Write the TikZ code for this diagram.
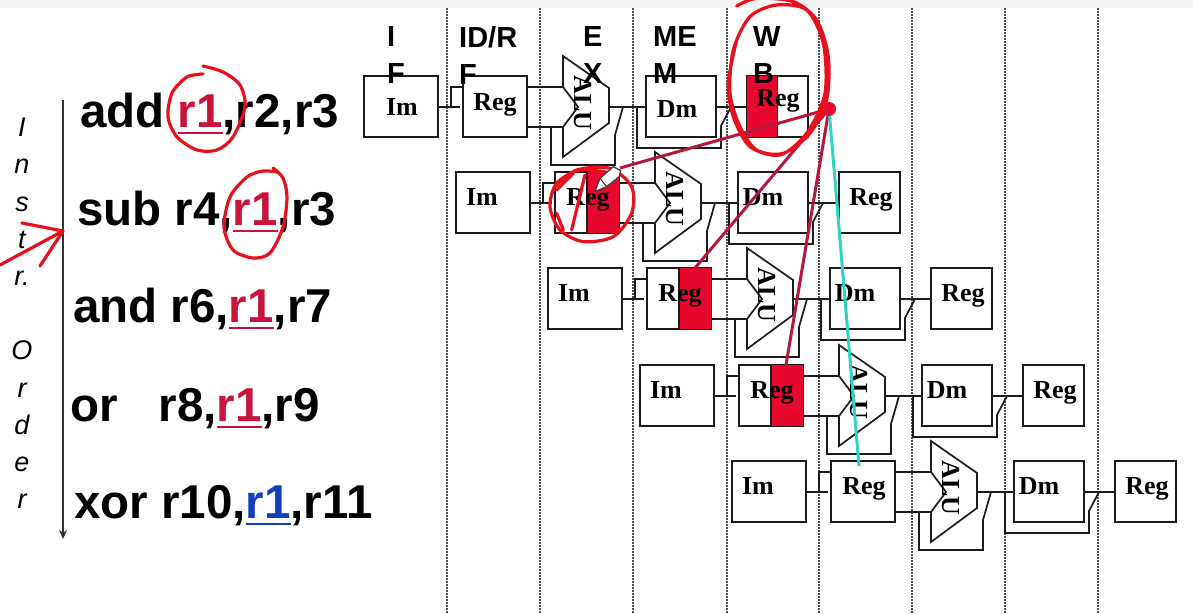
\documentclass[tikz,border=0pt]{standalone}
\usepackage{fontspec}
\setmainfont{Liberation Serif}
\setsansfont{Liberation Sans}
\usetikzlibrary{arrows.meta}
\definecolor{scrib}{HTML}{E9101E}
\definecolor{redfill}{HTML}{E8082E}
\definecolor{rone}{HTML}{C8143A}
\definecolor{bone}{HTML}{1040C0}
\definecolor{wine}{HTML}{B5173F}
\definecolor{teal2}{HTML}{2FD5C0}
\definecolor{ink}{HTML}{1C1C1C}
\newcommand{\regone}[2]{\textcolor{#1}{\setbox0\hbox{#2}\rlap{\rule[-6.5pt]{\wd0}{1.7pt}}\box0}}
\tikzset{
  pipebox/.style={draw=ink,line width=1.7pt,fill=white,inner sep=0pt,minimum height=61pt},
  wire/.style={draw=ink,line width=1.7pt,line join=miter},
  alushape/.style={draw=ink,line width=1.7pt,fill=white,line join=miter},
  stagetxt/.style={font=\fontsize{26}{26}\selectfont\bfseries,text=black,inner sep=0pt,anchor=base},
  header/.style={font=\fontsize{29}{37}\selectfont\sffamily\bfseries,inner sep=0pt,align=left,anchor=north west},
  instr/.style={font=\fontsize{47.5}{47.5}\selectfont\sffamily\bfseries,inner sep=0pt,anchor=base west},
  stagesep/.style={draw=black!70,line width=1.5pt,dash pattern=on 1.5pt off 1.5pt},
  scribble/.style={draw=scrib,line width=3.2pt,line cap=round,line join=round},
  linkline/.style={draw=wine,line width=3pt},
  redreg/.style={draw=ink,line width=1.2pt,fill=redfill},
}
\begin{document}
\begin{tikzpicture}[x=1pt,y=-1pt]
\useasboundingbox (0,0) rectangle (1193,613);
\clip (0,0) rectangle (1193,613);
\fill[white] (0,0) rectangle (1193,613);
\fill[black!5] (0,0) rectangle (1193,8);
% stage separators
\foreach \sx in {447,540,633,727,819,912,1005,1098}
  \draw[stagesep] (\sx,8) -- (\sx,613);
% pipeline rows
\foreach \r/\dx/\dy in {1/0/0,2/92/96,3/184/192,4/276/289,5/368/385}{
\begin{scope}[shift={(\dx,\dy)}]
  \node[pipebox,minimum width=74pt] (im\r) at (401,106.5) {};
  \node[pipebox,minimum width=64pt] (rg\r) at (495,106.5) {};
  \node[pipebox,minimum width=70pt] (dm\r) at (681,106.5) {};
  \node[pipebox,minimum width=61pt] (wb\r) at (777.5,106.5) {};
  \coordinate (au\r) at (563,87);
  \coordinate (ad\r) at (563,127);
  \coordinate (ao\r) at (609,107);
  \coordinate (st\r) at (460,107);
  \coordinate (br\r) at (451,107);
  \coordinate (fw\r) at (623,107);
  \coordinate (mw\r) at (637,107);
  \coordinate (mt\r) at (731,107);
  % IF to ID
  \draw[wire] (im\r.east |- st\r) -- (st\r);
  \draw[wire] (br\r) -- (br\r |- au\r) -- (rg\r.west |- au\r);
  % Reg to ALU
  \draw[wire] (rg\r.east |- au\r) -- (au\r);
  \draw[wire] (rg\r.east |- ad\r) -- (ad\r);
  % forward round the ALU
  \draw[wire] (551,127) -- (551,165) -- (615,165) -- (615,135) -- (fw\r);
  % ALU out to Dm, Dm out to Reg
  \draw[wire] (ao\r) -- (dm\r.west |- ao\r);
  \draw[wire] (dm\r.east |- ao\r) -- (wb\r.west |- ao\r);
  \draw[wire] (mw\r) -- (637,148) -- (721,148) -- (721,126) -- (mt\r);
  % ALU
  \draw[alushape] (563,56) -- (609,88) -- (ao\r) -- (609,123) -- (563,157) -- (ad\r) -- (578,107) -- (au\r) -- cycle;
  \node[stagetxt,rotate=-90,anchor=center] (alu\r) at (583,103) {ALU};
\end{scope}
}
% red halves of the register boxes
\draw[redreg] (wb1.north west) rectangle (wb1.south);
\draw[redreg] (rg2.north) rectangle (rg2.south east);
\draw[redreg] (rg3.north) rectangle (rg3.south east);
\draw[redreg] (rg4.north) rectangle (rg4.south east);
% box texts
\node[stagetxt] (tim1) at (402,115) {Im};
\node[stagetxt] (trg1) at (495,110) {Reg};
\node[stagetxt] (tdm1) at (677,117) {Dm};
\node[stagetxt] (twb1) at (778,106) {Reg};
\foreach \r/\dx/\dy in {2/92/96,3/184/192,4/276/289,5/368/385}{
\begin{scope}[shift={(\dx,\dy)}]
  \node[stagetxt] (tim\r) at (390,109) {Im};
  \node[stagetxt] (trg\r) at (496,109) {Reg};
  \node[stagetxt] (tdm\r) at (671,109) {Dm};
  \node[stagetxt] (twb\r) at (779,109) {Reg};
\end{scope}
}
% stage headers
\node[header] (hif) at (387,26) {I\\F};
\node[header] (hid) at (459,26) {ID/R\\F};
\node[header] (hex) at (583,26) {E\\X};
\node[header] (hme) at (653,26) {ME\\M};
\node[header] (hwb) at (753,26) {W\\B};
% instruction list
\node[instr] (i1) at (80,127) {add \regone{rone}{r1},r2,r3};
\node[instr] (i2) at (77,225) {sub r4,\regone{rone}{r1},r3};
\node[instr] (i3) at (73,322) {and r6,\regone{rone}{r1},r7};
\node[instr] (i4) at (70,421) {or\hspace{41pt}r8,\regone{rone}{r1},r9};
\node[instr] (i5) at (74,518) {xor r10,\regone{bone}{r1},r11};
% order axis
\coordinate (axt) at (63,100);
\coordinate (axb) at (63,539);
\draw[draw=black!80,line width=1.5pt,-{Stealth[length=9pt,width=8pt]}] (axt) -- (axb);
\node[font=\fontsize{27}{37.2}\selectfont\sffamily\itshape,inner sep=0pt,align=center,anchor=north] (ord) at (22,118) {I\\n\\s\\t\\r.\\ \\O\\r\\d\\e\\r};
% links from the write-back register
\coordinate (dot) at (829,109);
\coordinate (pen) at (620,168);
\coordinate (l3) at (695,268);
\coordinate (l4) at (786,365);
\coordinate (l5) at (859,466);
\draw[linkline] (dot) -- (pen);
\draw[linkline] (dot) -- (l3);
\draw[linkline] (dot) -- (l4);
\draw[draw=teal2,line width=3pt] (dot) -- (l5);
\fill[redfill] (dot) circle (7pt);
% hand-drawn red marks
\draw[scribble] plot[smooth] coordinates {(203,74) (187,77) (172,93) (168,117) (177,137) (197,150) (217,150) (233,137) (245,107) (240,85) (223,72) (203,66)};
\draw[scribble] plot[smooth] coordinates {(273,168) (283,178) (287,197) (283,227) (270,253) (253,258) (233,250) (224,227) (230,197) (247,177) (263,171) (277,172)};
\draw[scribble] (0,265) -- (63,231);
\draw[scribble] (22,223) -- (63,231) -- (40,266);
\begin{scope}[shift={(350,0)},x=0.3333pt,y=-0.3333pt]
  \draw[scribble] plot[smooth] coordinates {(1160,18) (1220,-5) (1330,5) (1400,60) (1435,170) (1430,300) (1380,400) (1300,460) (1220,450) (1170,380) (1140,280) (1150,150) (1200,50) (1280,15) (1370,30) (1420,130) (1425,280) (1370,400) (1290,465) (1200,440) (1150,350) (1135,250) (1160,120)};
  \draw[scribble] plot[smooth] coordinates {(615,560) (680,510) (780,505) (845,560) (845,640) (790,710) (700,725) (630,690) (600,620) (620,550) (690,510) (790,520)};
  \draw[scribble] (705,525) -- (665,690);
  \draw[scribble] (620,570) -- (670,520);
  \draw[scribble] (640,690) -- (620,640);
  % pencil
  \draw[draw=black!75,line width=1.3pt,fill=white,line join=round] (735,575) -- (750,535) -- (790,500) -- (812,512) -- (808,530) -- (770,560) -- cycle;
  \draw[draw=black!75,line width=1.1pt] (750,535) -- (770,560);
\end{scope}
\end{tikzpicture}
\end{document}
